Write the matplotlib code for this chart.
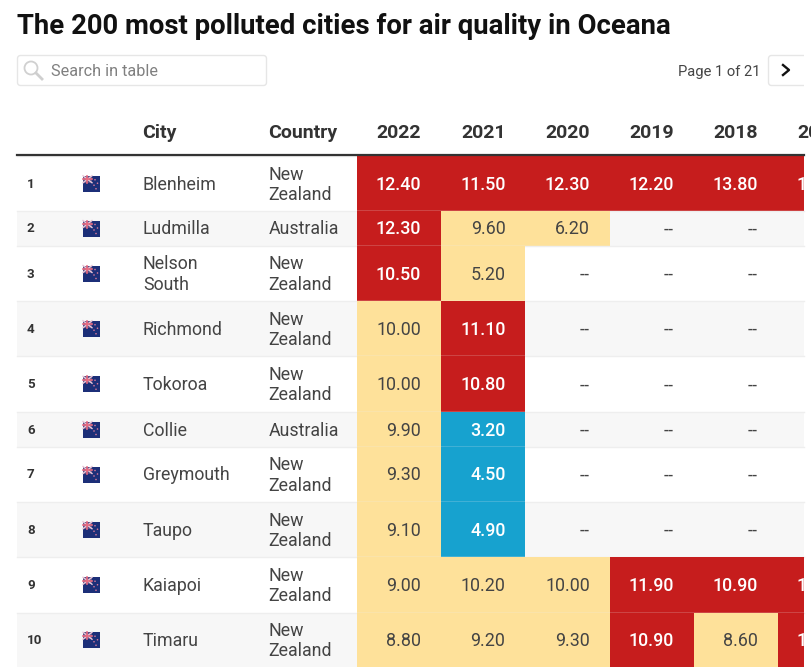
#!/usr/bin/env python3
# -*- coding: utf-8 -*-
import matplotlib.pyplot as plt
from matplotlib.patches import Rectangle, FancyBboxPatch, Circle

plt.rcParams['font.family'] = ['Roboto', 'DejaVu Sans']

# table content
title = 'The 200 most polluted cities for air quality in Oceana'
ranks = [1, 2, 3, 4, 5, 6, 7, 8, 9, 10]
cities = ['Blenheim', 'Ludmilla', 'Nelson\nSouth', 'Richmond', 'Tokoroa', 'Collie', 'Greymouth', 'Taupo', 'Kaiapoi', 'Timaru']
countries = ['New\nZealand', 'Australia', 'New\nZealand', 'New\nZealand', 'New\nZealand', 'Australia', 'New\nZealand', 'New\nZealand', 'New\nZealand', 'New\nZealand']
years = ['2022', '2021', '2020', '2019', '2018', '2017']

# None is a "--" cell
v2022 = [12.40, 12.30, 10.50, 10.00, 10.00, 9.90, 9.30, 9.10, 9.00, 8.80]
v2021 = [11.50, 9.60, 5.20, 11.10, 10.80, 3.20, 4.50, 4.90, 10.20, 9.20]
v2020 = [12.30, 6.20, None, None, None, None, None, None, 10.00, 9.30]
v2019 = [12.20, None, None, None, None, None, None, None, 11.90, 10.90]
v2018 = [13.80, None, None, None, None, None, None, None, 10.90, 8.60]
v2017 = [12.00, None, None, None, None, None, None, None, 11.00, 11.00]
columns = [v2022, v2021, v2020, v2019, v2018, v2017]

# layout in pixels
row_edges = [156, 210.5, 245.5, 300.5, 356, 411.5, 446.5, 501.5, 557, 612.5, 667]
col_edges = [357, 441, 525.5, 610, 694, 778, 862]
table_left = 17
table_right = 804
cell_pad = 20

RED = '#c61d1d'
YELLOW = '#fee19a'
BLUE = '#17a2cf'
DARK = '#333333'


def cell_color(value):
    if value is None:
        return None
    if value < 5:
        return BLUE
    if value <= 10.2:
        return YELLOW
    return RED


def draw_flag(ax, yc):
    x0, y0, w, h = 83, yc - 8, 17, 16
    ax.add_patch(Rectangle((x0, y0), w, h, fc='#1c2f78', ec='none'))
    ax.add_patch(Rectangle((x0, y0), 9, 7, fc='#5a4f86', ec='none'))
    ax.plot([x0, x0 + 9], [y0, y0 + 7], c='#e8c8d8', lw=1.0)
    ax.plot([x0, x0 + 9], [y0 + 7, y0], c='#e8c8d8', lw=1.0)
    ax.plot([x0 + 4.5, x0 + 4.5], [y0, y0 + 7], c='#e86a80', lw=1.2)
    ax.plot([x0, x0 + 9], [y0 + 3.5, y0 + 3.5], c='#e86a80', lw=1.2)
    for dx, dy in [(12, 4), (14.5, 7.5), (11, 9.5), (13, 13)]:
        ax.add_patch(Circle((x0 + dx, y0 + dy), 0.8, fc='#d87a9a', ec='none'))


fig = plt.figure(figsize=(8.12, 6.67), dpi=100)
ax = fig.add_axes([0, 0, 1, 1])
ax.set_xlim(0, 812)
ax.set_ylim(667, 0)
ax.axis('off')

ax.text(17, 26.5, title, fontsize=19.8, fontweight='bold', color='#111111', va='center', ha='left')

# search box
ax.add_patch(FancyBboxPatch((17.5, 55.5), 249, 30, boxstyle='round,pad=0,rounding_size=3', fc='white', ec='#e6e6e6', lw=1))
ax.add_patch(Circle((31, 68), 6.5, fc='none', ec='#d0d0d0', lw=1.3))
ax.plot([36, 42], [73, 79], c='#cfcfcf', lw=2)
ax.text(51, 71, 'Search in table', fontsize=11.7, color='#808080', va='center', ha='left')

# pager
ax.text(760.5, 72, 'Page 1 of 21', fontsize=10.6, color='#444444', va='center', ha='right')
ax.add_patch(FancyBboxPatch((768.5, 55.5), 50, 30, boxstyle='round,pad=0,rounding_size=3', fc='white', ec='#e6e6e6', lw=1))
ax.add_patch(Rectangle((804, 40), 8, 60, fc='white', ec='none', zorder=3))
ax.plot([783, 789, 783], [65, 70, 75], c='#111111', lw=1.7)

# header
ax.text(142.5, 133.5, 'City', fontsize=14, fontweight='bold', color=DARK, va='center', ha='left')
ax.text(268, 133.5, 'Country', fontsize=14, fontweight='bold', color=DARK, va='center', ha='left')

clip = Rectangle((0, 0), table_right, 667, transform=ax.transData)

for j, year in enumerate(years):
    t = ax.text(col_edges[j + 1] - cell_pad, 133.5, year, fontsize=14, fontweight='bold', color=DARK, va='center', ha='right')
    t.set_clip_path(clip)

# rows
for i in range(len(ranks)):
    y0, y1 = row_edges[i], row_edges[i + 1]
    yc = (y0 + y1) / 2
    if i % 2 == 1:
        ax.add_patch(Rectangle((table_left, y0), table_right - table_left, y1 - y0, fc='#f7f7f7', ec='none'))
    ax.plot([table_left, table_right], [y0, y0], c='#eeeeee', lw=1)
    ax.text(27, yc + 1, str(ranks[i]), fontsize=9.6, fontweight='bold', color=DARK, va='center', ha='left')
    draw_flag(ax, yc + 0.5)
    ax.text(143, yc + 1.5, cities[i], fontsize=12.8, color='#444444', va='center', ha='left', linespacing=1.17)
    ax.text(268.5, yc + 1.5, countries[i], fontsize=12.8, color='#444444', va='center', ha='left', linespacing=1.17)
    for j, col in enumerate(columns):
        value = col[i]
        x0, x1 = col_edges[j], col_edges[j + 1]
        color = cell_color(value)
        if color is None:
            t = ax.text(x1 - cell_pad, yc + 1.5, '--', fontsize=12.9, color='#444444', va='center', ha='right')
            t.set_clip_path(clip)
            continue
        r = Rectangle((x0, y0), x1 - x0, y1 - y0, fc=color, ec='none', zorder=2)
        ax.add_patch(r)
        r.set_clip_path(clip)
        text_color = '#444444' if color == YELLOW else 'white'
        text_weight = 'normal' if color == YELLOW else 'medium'
        t = ax.text(x1 - cell_pad, yc + 1.5, '%.2f' % value, fontsize=12.9, fontweight=text_weight, color=text_color, va='center', ha='right', zorder=4)
        t.set_clip_path(clip)

# rule under the header
ax.plot([table_left, table_right], [155, 155], c=DARK, lw=1.6, zorder=5)

plt.savefig('out.png', dpi=100)
plt.close()
